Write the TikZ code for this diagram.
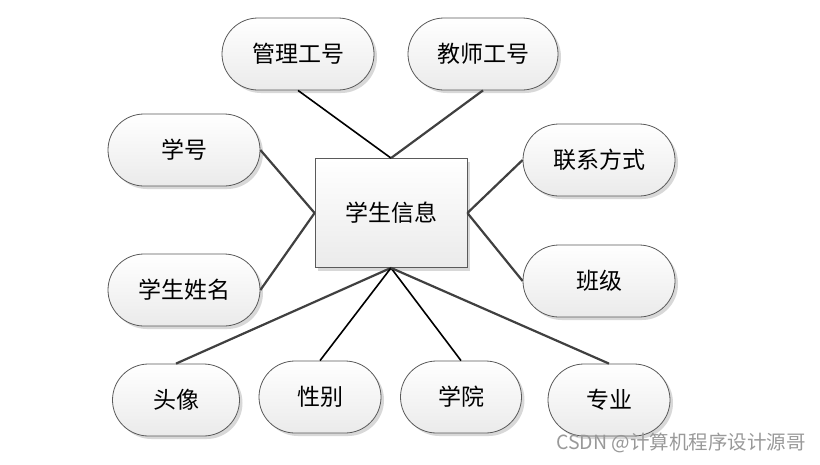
\documentclass[tikz,border=0pt]{standalone}
\usepackage{fontspec}
\newfontfamily\cjk{Noto Sans CJK SC}
\usetikzlibrary{shapes.misc,shadows}
\definecolor{edgegray}{HTML}{404040}
\definecolor{bordergray}{HTML}{5A5A5A}
\begin{document}
\begin{tikzpicture}[x=1pt,y=-1pt,
  attr/.style={rounded rectangle, draw=bordergray, line width=0.8pt,
    top color=white, bottom color=black!8,
    minimum height=72pt, inner sep=0pt,
    drop shadow={shadow xshift=3pt, shadow yshift=-3pt, fill=black!25, opacity=0.6},
    font=\cjk\fontsize{23}{27}\selectfont},
  entity/.style={rectangle, draw=bordergray, line width=0.8pt,
    top color=white, bottom color=black!8,
    minimum width=152pt, minimum height=109pt, inner sep=0pt,
    drop shadow={shadow xshift=3pt, shadow yshift=-3pt, fill=black!25, opacity=0.6},
    font=\cjk\fontsize{23}{27}\selectfont},
  blk/.style={draw=black, line width=1.6pt},
  gry/.style={draw=edgegray, line width=2.2pt}
]
\useasboundingbox (0,0) rectangle (820,464);
\fill[white] (0,0) rectangle (820,464);

\node[entity] (e) at (391,213) {学生信息};

\node[attr, minimum width=152pt] (gl) at (298,54) {管理工号};
\node[attr, minimum width=150pt] (js) at (483,54) {教师工号};
\node[attr, minimum width=152pt] (xh) at (184,150) {学号};
\node[attr, minimum width=152pt] (xm) at (184,290) {学生姓名};
\node[attr, minimum width=152pt] (lx) at (599,160) {联系方式};
\node[attr, minimum width=152pt] (bj) at (599,281) {班级};
\node[attr, minimum width=127pt] (tx) at (176,400) {头像};
\node[attr, minimum width=122pt] (xb) at (320,397) {性别};
\node[attr, minimum width=121pt] (xy) at (461,397) {学院};
\node[attr, minimum width=122pt] (zy) at (609,400) {专业};

\draw[blk] (gl.south) -- (e.north);
\draw[gry] (js.south) -- (e.north);
\draw[gry] (xh.east) -- (e.west);
\draw[gry] (xm.east) -- (e.west);
\draw[gry] (lx.west) -- (e.east);
\draw[gry] (bj.west) -- (e.east);
\draw[gry] (e.south) -- (tx.north);
\draw[blk] (e.south) -- (xb.north);
\draw[blk] (e.south) -- (xy.north);
\draw[gry] (e.south) -- (zy.north);

\node[anchor=east, text=black!40, font=\cjk\fontsize{19.5}{22}\selectfont, inner sep=0pt] (wm) at (806,443) {CSDN @计算机程序设计源哥};
\end{tikzpicture}
\end{document}
